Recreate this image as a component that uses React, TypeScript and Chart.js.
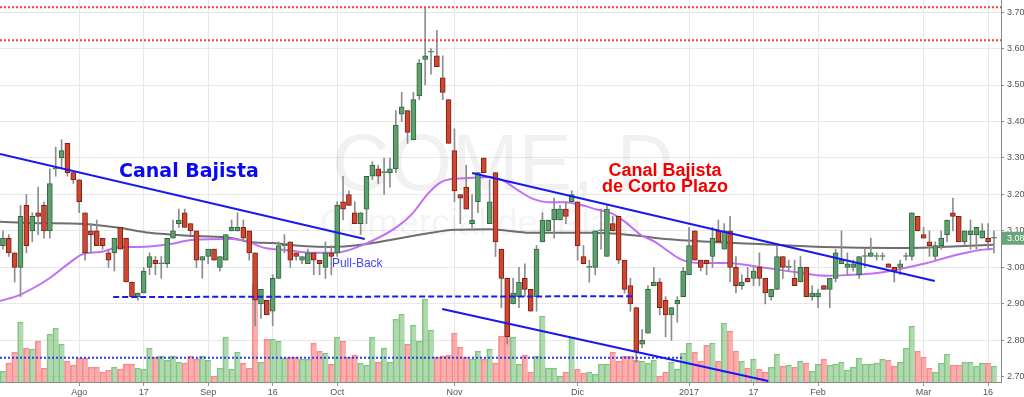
import React, { useEffect, useRef } from "react";
import { Chart, registerables } from "chart.js";

Chart.register(...registerables);

// ---- Daily candles (COME, D) ----
const OPEN = [
  3.06, 3.08, 3.04, 3.00, 3.17, 3.10, 3.15, 3.17, 3.10, 3.27,
  3.30, 3.34, 3.26, 3.24, 3.15, 3.10, 3.10, 3.08, 3.04, 3.04,
  3.11, 3.08, 2.96, 2.92, 2.93, 3.00, 3.02, 3.01, 3.01, 3.08,
  3.12, 3.15, 3.12, 3.10, 3.02, 3.03, 3.05, 3.00, 3.02, 3.10,
  3.10, 3.11, 3.10, 3.04, 2.90, 2.91, 2.88, 2.97, 3.06, 3.07,
  3.04, 3.02, 3.01, 3.04, 3.02, 3.00, 3.04, 3.04, 3.18, 3.20,
  3.15, 3.12, 3.16, 3.25, 3.27, 3.26, 3.26, 3.27, 3.42, 3.43,
  3.35, 3.47, 3.57, 3.59, 3.58, 3.52, 3.46, 3.32, 3.20, 3.22,
  3.12, 3.18, 3.30, 3.12, 3.26, 3.05, 2.97, 2.90, 2.92, 2.97,
  2.94, 2.92, 3.07, 3.10, 3.13, 3.13, 3.16, 3.18, 3.18, 3.03,
  3.00, 3.00, 3.10, 3.03, 3.12, 3.14, 3.02, 2.95, 2.89, 2.79,
  2.82, 2.95, 2.96, 2.91, 2.87, 2.90, 2.92, 2.98, 3.10, 3.02,
  3.02, 3.03, 3.10, 3.05, 3.10, 3.00, 2.95, 2.97, 2.97, 3.00,
  2.97, 2.92, 2.94, 3.03, 3.00, 2.97, 2.96, 3.00, 2.92, 2.92,
  2.95, 2.94, 2.97, 3.01, 3.00, 3.00, 2.98, 3.03, 3.03, 3.03,
  3.03, 3.01, 3.00, 3.00, 3.03, 3.03, 3.14, 3.09, 3.07, 3.03,
  3.06, 3.09, 3.15, 3.14, 3.07, 3.09, 3.09, 3.08, 3.08, 3.08,
];
const HIGH = [
  3.10, 3.09, 3.04, 3.17, 3.20, 3.15, 3.22, 3.18, 3.27, 3.33,
  3.35, 3.34, 3.26, 3.24, 3.15, 3.12, 3.13, 3.08, 3.05, 3.08,
  3.11, 3.08, 2.96, 2.93, 3.00, 3.04, 3.03, 3.03, 3.08, 3.13,
  3.16, 3.16, 3.12, 3.10, 3.03, 3.05, 3.05, 3.03, 3.09, 3.13,
  3.15, 3.13, 3.10, 3.04, 2.94, 2.91, 2.98, 3.07, 3.09, 3.07,
  3.04, 3.03, 3.05, 3.04, 3.02, 3.07, 3.06, 3.18, 3.25, 3.21,
  3.18, 3.15, 3.25, 3.29, 3.28, 3.30, 3.30, 3.43, 3.48, 3.43,
  3.48, 3.57, 3.71, 3.60, 3.65, 3.58, 3.46, 3.38, 3.20, 3.28,
  3.20, 3.26, 3.30, 3.24, 3.26, 3.05, 2.97, 2.97, 3.00, 3.01,
  2.94, 3.06, 3.15, 3.13, 3.19, 3.17, 3.18, 3.21, 3.18, 3.06,
  3.02, 3.10, 3.16, 3.17, 3.14, 3.14, 3.02, 2.97, 2.89, 2.83,
  2.95, 3.00, 2.97, 2.92, 2.89, 2.92, 3.00, 3.11, 3.10, 3.02,
  3.02, 3.11, 3.13, 3.12, 3.14, 3.03, 2.98, 3.00, 3.00, 3.04,
  2.97, 2.94, 3.06, 3.03, 3.02, 3.02, 3.03, 3.00, 2.95, 2.94,
  2.95, 2.97, 3.05, 3.10, 3.04, 3.02, 3.03, 3.05, 3.08, 3.04,
  3.04, 3.01, 3.00, 3.02, 3.04, 3.15, 3.14, 3.11, 3.10, 3.07,
  3.10, 3.13, 3.19, 3.14, 3.10, 3.13, 3.11, 3.12, 3.12, 3.10,
];
const LOW = [
  3.05, 3.03, 2.96, 2.92, 3.04, 3.07, 3.09, 3.08, 3.08, 3.25,
  3.27, 3.25, 3.23, 3.15, 3.02, 3.04, 3.06, 3.05, 3.00, 2.99,
  3.05, 2.96, 2.92, 2.91, 2.93, 2.98, 2.98, 2.97, 3.00, 3.08,
  3.11, 3.11, 3.09, 3.00, 2.97, 3.01, 3.02, 2.99, 3.02, 3.10,
  3.10, 3.07, 3.02, 2.84, 2.86, 2.87, 2.84, 2.97, 3.04, 3.00,
  3.02, 3.01, 3.01, 2.98, 2.98, 2.97, 2.98, 3.03, 3.13, 3.17,
  3.12, 3.09, 3.12, 3.24, 3.23, 3.20, 3.22, 3.26, 3.40, 3.34,
  3.35, 3.46, 3.50, 3.53, 3.55, 3.46, 3.34, 3.18, 3.12, 3.16,
  3.11, 3.15, 3.26, 3.12, 3.03, 2.89, 2.79, 2.90, 2.89, 2.92,
  2.88, 2.88, 3.07, 3.10, 3.08, 3.13, 3.12, 3.18, 3.02, 3.01,
  2.96, 2.98, 3.05, 3.03, 3.10, 3.01, 2.93, 2.88, 2.74, 2.78,
  2.82, 2.95, 2.87, 2.81, 2.80, 2.85, 2.92, 2.98, 3.02, 2.99,
  2.98, 3.00, 3.07, 3.05, 2.96, 2.93, 2.94, 2.96, 2.95, 2.95,
  2.90, 2.91, 2.94, 2.97, 2.99, 2.95, 2.96, 2.92, 2.91, 2.89,
  2.94, 2.89, 2.96, 3.01, 2.98, 2.99, 2.97, 3.00, 3.03, 3.02,
  3.02, 3.00, 2.96, 2.98, 3.02, 3.02, 3.10, 3.08, 3.03, 3.02,
  3.05, 3.07, 3.10, 3.07, 3.06, 3.05, 3.05, 3.08, 3.05, 3.04,
];
const CLOSE = [
  3.08, 3.04, 3.00, 3.14, 3.06, 3.14, 3.14, 3.10, 3.23, 3.27,
  3.32, 3.26, 3.24, 3.18, 3.04, 3.09, 3.06, 3.06, 3.02, 3.08,
  3.05, 2.96, 2.92, 2.93, 2.99, 3.03, 3.01, 3.01, 3.08, 3.10,
  3.13, 3.11, 3.10, 3.02, 3.03, 3.05, 3.02, 3.03, 3.09, 3.11,
  3.11, 3.08, 3.04, 2.91, 2.94, 2.87, 2.97, 3.06, 3.06, 3.02,
  3.03, 3.03, 3.04, 3.02, 3.01, 3.04, 3.03, 3.17, 3.16, 3.17,
  3.12, 3.15, 3.25, 3.28, 3.25, 3.26, 3.27, 3.39, 3.44, 3.37,
  3.46, 3.56, 3.58, 3.59, 3.55, 3.48, 3.34, 3.21, 3.19, 3.16,
  3.13, 3.26, 3.26, 3.18, 3.07, 2.97, 2.81, 2.93, 2.96, 2.94,
  2.88, 3.05, 3.13, 3.13, 3.16, 3.16, 3.14, 3.20, 3.06, 3.01,
  3.00, 3.10, 3.10, 3.16, 3.10, 3.02, 2.94, 2.90, 2.77, 2.80,
  2.94, 2.96, 2.89, 2.87, 2.89, 2.91, 2.99, 3.06, 3.02, 3.00,
  3.01, 3.08, 3.07, 3.10, 3.00, 2.95, 2.96, 2.96, 2.99, 2.97,
  2.93, 2.94, 3.03, 3.00, 3.00, 2.95, 3.00, 2.92, 2.93, 2.93,
  2.94, 2.97, 3.04, 3.02, 3.01, 3.01, 3.03, 3.03, 3.04, 3.03,
  3.03, 3.00, 2.99, 3.01, 3.03, 3.15, 3.10, 3.08, 3.06, 3.06,
  3.08, 3.13, 3.14, 3.07, 3.10, 3.10, 3.11, 3.10, 3.07, 3.08,
];
// volume, in hundred-thousand shares (relative units of the hidden volume axis)
const VOLUME = [
  11, 19, 30, 60, 34, 33, 41, 14, 48, 54,
  38, 21, 17, 24, 24, 15, 15, 10, 12, 15,
  13, 18, 18, 14, 13, 34, 25, 26, 22, 26,
  20, 19, 26, 23, 26, 22, 6, 14, 45, 13,
  30, 19, 14, 98, 20, 43, 43, 41, 24, 25,
  25, 23, 23, 39, 31, 29, 18, 45, 41, 25,
  27, 19, 17, 45, 20, 34, 20, 63, 68, 38,
  57, 41, 83, 52, 25, 26, 27, 49, 35, 25,
  23, 31, 23, 33, 19, 46, 59, 45, 18, 27,
  10, 26, 66, 14, 14, 6, 10, 45, 13, 9,
  10, 8, 18, 18, 30, 21, 26, 26, 22, 21,
  19, 22, 6, 10, 20, 13, 29, 39, 30, 21,
  37, 39, 21, 59, 51, 31, 21, 14, 23, 13,
  10, 15, 28, 16, 17, 15, 21, 19, 11, 18,
  23, 17, 18, 20, 12, 15, 24, 18, 18, 19,
  23, 22, 16, 20, 34, 56, 31, 25, 14, 10,
  19, 28, 17, 17, 20, 20, 16, 19, 19, 16,
];

// ---- axis ticks ----
const X_TICK_INDEX = [13, 24, 35, 46, 57, 77, 98, 117, 128, 139, 157, 168];
const X_TICK_LABELS = ["Ago", "17", "Sep", "16", "Oct", "Nov", "Dic", "2017", "17", "Feb", "Mar", "16"];
const Y_TICKS = [2.7, 2.8, 2.9, 3.0, 3.1, 3.2, 3.3, 3.4, 3.5, 3.6, 3.7];

// ---- moving averages, read at sample points [bar index, price] ----
const MA_SLOW = [
  [-0.5, 3.125], [5, 3.122], [14, 3.119], [20, 3.108], [25, 3.095], [33, 3.086],
  [39, 3.081], [42, 3.07], [46, 3.067], [51, 3.059], [56, 3.056], [61, 3.062],
  [67, 3.078], [73, 3.095], [77, 3.103], [83, 3.105], [90, 3.095], [96, 3.095],
  [101, 3.095], [107, 3.089], [113, 3.078], [121, 3.07], [129, 3.064], [140, 3.056],
  [152, 3.053], [160, 3.056], [169, 3.062],
];
const MA_FAST = [
  [-0.5, 2.908], [2.9, 2.925], [8, 2.971], [10.9, 3.007], [13.7, 3.037], [16.6, 3.042],
  [20, 3.056], [23.4, 3.056], [28.5, 3.064], [32.2, 3.075], [39.1, 3.078], [41.8, 3.07],
  [44.7, 3.053], [48.1, 3.048], [53.2, 3.04], [56.6, 3.04], [61.4, 3.062], [67.2, 3.111],
  [69.9, 3.149], [72.3, 3.199], [74.5, 3.232], [76.2, 3.242], [79.6, 3.245], [83.1, 3.248],
  [85.1, 3.24], [87.8, 3.212], [90.1, 3.19], [93, 3.179], [95.9, 3.179], [98.6, 3.171],
  [101.5, 3.158], [103.7, 3.149], [106.1, 3.125], [108.8, 3.089], [111.2, 3.07], [113.4, 3.045],
  [115.5, 3.023], [118.9, 3.012], [123.5, 3.012], [129.1, 3.001], [134.7, 2.988], [140.5, 2.977],
  [143.9, 2.979], [149.1, 2.985], [153, 2.996], [157.6, 3.012], [162, 3.032], [166.6, 3.048],
  [168.8, 3.051],
];

// ---- drawn annotations [bar index, price] ----
const CHANNEL_LONG = [[-0.5, 3.311], [61.7, 3.078]];
const CHANNEL_SHORT_TOP = [[80.0, 3.259], [158.9, 2.963]];
const CHANNEL_SHORT_BOTTOM = [[74.9, 2.886], [130.5, 2.689]];
const SUPPORT_DASHED = [[18.8, 2.919], [107.3, 2.921]];
const RESISTANCE_LEVELS = [3.713, 3.623];
const VOLUME_AVG = [[-0.5, 24.3], [115.8, 24.3]];

const X_MIN = -0.5;
const X_MAX = 170.2;
const PRICE_MIN = 2.686;
const PRICE_MAX = 3.733;
const VOLUME_MAX = 382;

const SANS = "'Liberation Sans', Arial, sans-serif";

const TEXTS = [
  { text: "Canal Bajista", x: 19.8, y: 3.249, color: "#0a0af0", font: "bold 19px 'DejaVu Sans', sans-serif", align: "left" },
  { text: "Canal Bajista", x: 112.9, y: 3.251, color: "#f00000", font: `bold 18px ${SANS}`, align: "center" },
  { text: "de Corto Plazo", x: 112.9, y: 3.208, color: "#f00000", font: `bold 18px ${SANS}`, align: "center" },
  { text: "Pull-Back", x: 56.1, y: 3.002, color: "#4646ff", font: `12px ${SANS}`, align: "left" },
];
const WATERMARKS = [
  { text: "COME, D", x: 56.1, y: 3.212, font: `80px ${SANS}`, color: "rgba(0,0,0,0.055)" },
  { text: "Comercial del Plata", x: 54.1, y: 3.089, font: `37px ${SANS}`, color: "rgba(0,0,0,0.045)" },
];

const pts = (arr: number[][]) => arr.map(([x, y]) => ({ x, y }));

export default function App() {
  const ref = useRef<HTMLCanvasElement | null>(null);

  useEffect(() => {
    document.body.style.margin = "0";
    const canvas = ref.current;
    if (!canvas) return;

    const n = CLOSE.length;
    const idx = Array.from({ length: n }, (_, i) => i);
    const up = idx.map((i) => CLOSE[i] >= OPEN[i]);

    const line = (data: any[], color: string, width: number, dash: number[], order: number, yAxisID = "y", smooth = false) => ({
      type: "line" as const,
      data,
      borderColor: color,
      borderWidth: width,
      borderDash: dash,
      pointRadius: 0,
      fill: false,
      order,
      yAxisID,
      xAxisID: "x",
      tension: smooth ? 0.4 : 0,
      cubicInterpolationMode: smooth ? ("monotone" as const) : ("default" as const),
    });

    const overlay = {
      id: "overlay",
      beforeDatasetsDraw(chart: any) {
        const { ctx, scales } = chart;
        ctx.save();
        ctx.textBaseline = "alphabetic";
        ctx.textAlign = "left";
        WATERMARKS.forEach((w) => {
          ctx.font = w.font;
          ctx.fillStyle = w.color;
          ctx.fillText(w.text, scales.x.getPixelForValue(w.x), scales.y.getPixelForValue(w.y));
        });
        ctx.restore();
      },
      afterDatasetsDraw(chart: any) {
        const { ctx, scales } = chart;
        ctx.save();
        ctx.textBaseline = "alphabetic";
        TEXTS.forEach((t) => {
          ctx.font = t.font;
          ctx.fillStyle = t.color;
          ctx.textAlign = t.align as CanvasTextAlign;
          ctx.fillText(t.text, scales.x.getPixelForValue(t.x), scales.y.getPixelForValue(t.y));
        });
        ctx.restore();
      },
      afterDraw(chart: any) {
        const { ctx, scales, chartArea } = chart;
        const last = CLOSE[n - 1];
        const yy = scales.y.getPixelForValue(last);
        ctx.save();
        ctx.fillStyle = "#6aa57a";
        ctx.fillRect(chartArea.right + 1, yy - 6.5, chart.width - chartArea.right - 1, 13);
        ctx.fillStyle = "#ffffff";
        ctx.font = `9px ${SANS}`;
        ctx.textAlign = "left";
        ctx.textBaseline = "middle";
        ctx.fillText(last.toFixed(2), chartArea.right + 6, yy + 0.5);
        ctx.restore();
      },
    };

    const chart = new Chart(canvas, {
      type: "bar",
      data: {
        datasets: [
          ...RESISTANCE_LEVELS.map((lv) =>
            line([{ x: X_MIN, y: lv }, { x: X_MAX, y: lv }], "rgba(255,50,50,0.95)", 2, [2, 2], 0)
          ),
          line(pts(CHANNEL_LONG), "#1818f0", 2, [], 0),
          line(pts(CHANNEL_SHORT_TOP), "#1818f0", 2, [], 0),
          line(pts(CHANNEL_SHORT_BOTTOM), "#1818f0", 2, [], 0),
          line(pts(SUPPORT_DASHED), "#1c1ce8", 2, [6, 3], 0),
          line(pts(VOLUME_AVG), "#2a3ef0", 2, [2, 2], 1, "v"),
          {
            type: "bar" as const,
            data: idx.map((i) => ({ x: i, y: [OPEN[i], CLOSE[i]] })),
            backgroundColor: up.map((u) => (u ? "#5f9e6f" : "#cf4632")),
            borderColor: up.map((u) => (u ? "#2d6a3c" : "#7c2014")),
            borderWidth: 1,
            borderSkipped: false,
            barThickness: 5,
            minBarLength: 1,
            grouped: false,
            order: 2,
            yAxisID: "y",
          },
          {
            type: "bar" as const,
            data: idx.map((i) => ({ x: i, y: [LOW[i], HIGH[i]] })),
            backgroundColor: "#8d8d8d",
            barThickness: 1,
            grouped: false,
            order: 3,
            yAxisID: "y",
          },
          line(pts(MA_FAST), "rgb(192,112,246)", 2, [], 4, "y", true),
          line(pts(MA_SLOW), "#6e6e6e", 2, [], 4, "y", true),
          {
            type: "bar" as const,
            data: idx.map((i) => ({ x: i, y: VOLUME[i] })),
            backgroundColor: up.map((u) => (u ? "rgba(125,196,125,0.62)" : "rgba(250,122,122,0.62)")),
            borderColor: up.map((u) => (u ? "rgba(100,175,100,0.75)" : "rgba(240,110,110,0.75)")),
            borderWidth: { left: 1, top: 1, right: 0, bottom: 0 },
            borderSkipped: false,
            barPercentage: 1,
            categoryPercentage: 1,
            grouped: false,
            order: 6,
            yAxisID: "v",
          },
        ] as any,
      },
      options: {
        animation: false,
        responsive: false,
        devicePixelRatio: 1,
        events: [],
        layout: { padding: 0 },
        plugins: {
          legend: { display: false },
          tooltip: { enabled: false },
        },
        scales: {
          x: {
            type: "linear",
            min: X_MIN,
            max: X_MAX,
            bounds: "data",
            offset: false,
            grid: { color: "#e8e8e8", offset: false, tickLength: 4, tickColor: "#999" },
            border: { display: true, color: "#8a8a8a" },
            ticks: {
              autoSkip: false,
              maxRotation: 0,
              padding: 1,
              color: "#555",
              font: { size: 9, family: SANS },
              callback: (v: any) => {
                const k = X_TICK_INDEX.indexOf(Number(v));
                return k >= 0 ? X_TICK_LABELS[k] : "";
              },
            },
            afterBuildTicks: (s: any) => {
              s.ticks = X_TICK_INDEX.map((v) => ({ value: v }));
            },
            afterFit: (s: any) => {
              s.height = 15;
              s.paddingLeft = 0;
              s.paddingRight = 0;
            },
          },
          y: {
            type: "linear",
            position: "right",
            min: PRICE_MIN,
            max: PRICE_MAX,
            bounds: "data",
            grid: { color: "#e8e8e8", tickLength: 3, tickColor: "#888" },
            border: { display: true, color: "#8a8a8a" },
            ticks: {
              padding: 3,
              color: "#555",
              font: { size: 9, family: SANS },
              callback: (v: any) => Number(v).toFixed(2),
            },
            afterBuildTicks: (s: any) => {
              s.ticks = Y_TICKS.map((v) => ({ value: v }));
            },
            afterFit: (s: any) => {
              s.width = 23;
              s.paddingTop = 0;
              s.paddingBottom = 0;
            },
          },
          v: {
            type: "linear",
            display: false,
            min: 0,
            max: VOLUME_MAX,
          },
        },
      } as any,
      plugins: [overlay],
    });

    return () => chart.destroy();
  }, []);

  return <canvas ref={ref} width={1024} height={397} style={{ display: "block" }} />;
}
